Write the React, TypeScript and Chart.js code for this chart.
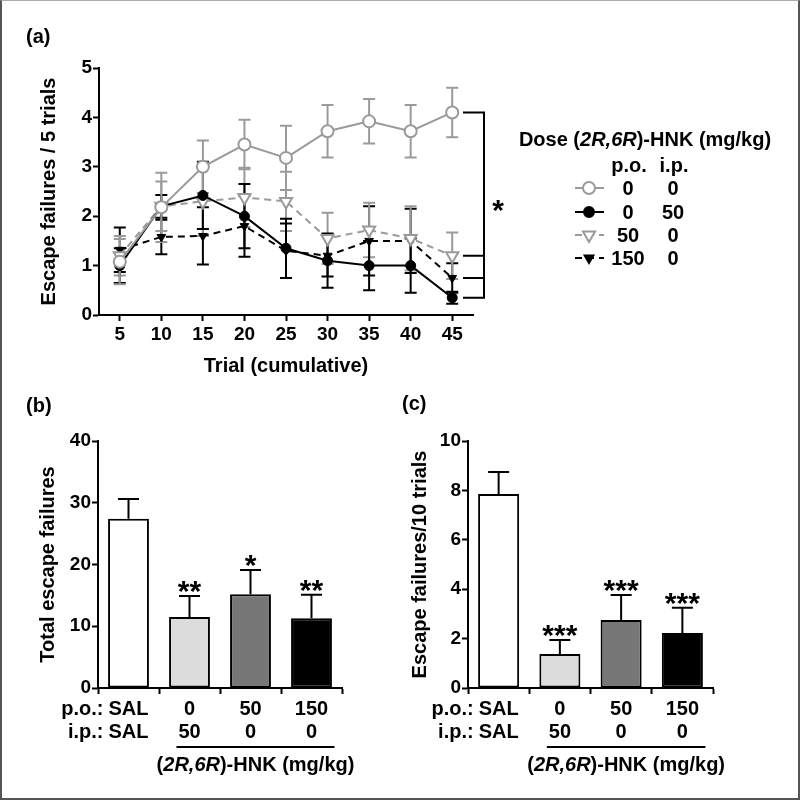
import React, { useEffect, useRef } from "react";
import { Chart, registerables } from "chart.js";

Chart.register(...registerables);

const FONT = "'Liberation Sans', Arial, Helvetica, sans-serif";
const GRAY = "#9a9a9a";

// ---------- Panel (a) data ----------
const TRIALS = ["5", "10", "15", "20", "25", "30", "35", "40", "45"];
const VEH_MEAN = [1.08, 2.18, 3.0, 3.45, 3.18, 3.72, 3.92, 3.72, 4.1];
const VEH_SEM = [0.46, 0.7, 0.53, 0.5, 0.65, 0.53, 0.45, 0.53, 0.5];
const IP50_MEAN = [1.0, 2.2, 2.42, 2.0, 1.35, 1.1, 1.0, 1.0, 0.35];
const IP50_SEM = [0.35, 0.23, 0.68, 0.65, 0.6, 0.55, 0.5, 0.55, 0.12];
const PO50_MEAN = [1.2, 2.2, 2.3, 2.38, 2.3, 1.55, 1.72, 1.55, 1.2];
const PO50_SEM = [0.4, 0.5, 0.7, 0.6, 0.6, 0.52, 0.55, 0.65, 0.47];
const PO150_MEAN = [1.32, 1.58, 1.6, 1.8, 1.3, 1.2, 1.5, 1.5, 0.75];
const PO150_SEM = [0.45, 0.35, 0.58, 0.62, 0.55, 0.42, 0.7, 0.65, 0.3];
const A_YTICKS = [0, 1, 2, 3, 4, 5];

const LEGEND_ROWS = [
  { po: "0", ip: "0" },
  { po: "0", ip: "50" },
  { po: "50", ip: "0" },
  { po: "150", ip: "0" },
];

// ---------- Panel (b) / (c) data ----------
const GROUP_PO = ["SAL", "0", "50", "150"];
const GROUP_IP = ["SAL", "50", "0", "0"];
const BAR_COLORS = ["#ffffff", "#dcdcdc", "#777777", "#000000"];
const TOTAL_MEAN = [27.4, 11.5, 15.2, 11.3];
const TOTAL_SEM = [3.2, 3.4, 3.9, 3.8];
const TOTAL_STARS = ["", "**", "*", "**"];
const TEN_MEAN = [7.85, 1.38, 2.75, 2.23];
const TEN_SEM = [0.9, 0.56, 1.02, 1.02];
const TEN_STARS = ["", "***", "***", "***"];

type Part = [string, boolean];
const HNK_PARTS: Part[] = [["(", false], ["2R,6R", true], [")-HNK (mg/kg)", false]];

function drawRich(ctx: CanvasRenderingContext2D, parts: Part[], x: number, y: number, size: number, align: "left" | "center" | "right") {
  const fonts = parts.map(([, it]) => `${it ? "italic " : ""}bold ${size}px ${FONT}`);
  const widths = parts.map(([t], i) => {
    ctx.font = fonts[i];
    return ctx.measureText(t).width;
  });
  const total = widths.reduce((a, b) => a + b, 0);
  let cx = align === "center" ? x - total / 2 : align === "right" ? x - total : x;
  ctx.textAlign = "left";
  ctx.textBaseline = "middle";
  parts.forEach(([t], i) => {
    ctx.font = fonts[i];
    ctx.fillText(t, cx, y);
    cx += widths[i];
  });
}

function text(ctx: CanvasRenderingContext2D, s: string, x: number, y: number, size: number, align: CanvasTextAlign, baseline: CanvasTextBaseline = "middle") {
  ctx.font = `bold ${size}px ${FONT}`;
  ctx.textAlign = align;
  ctx.textBaseline = baseline;
  ctx.fillStyle = "#000";
  ctx.fillText(s, x, y);
}

function drawMarker(ctx: CanvasRenderingContext2D, style: string, x: number, y: number, r: number, fill: string, stroke: string) {
  ctx.beginPath();
  if (style === "circle") {
    ctx.arc(x, y, r, 0, Math.PI * 2);
  } else {
    const s = Math.sin(Math.PI / 3) * r;
    ctx.moveTo(x, y + r);
    ctx.lineTo(x - s, y - r / 2);
    ctx.lineTo(x + s, y - r / 2);
    ctx.closePath();
  }
  ctx.fillStyle = fill;
  ctx.fill();
  ctx.lineWidth = 2;
  ctx.strokeStyle = stroke;
  ctx.setLineDash([]);
  ctx.stroke();
}

const axisCommon = (extra: any) => ({
  grid: { display: true, drawOnChartArea: false, drawTicks: true, tickLength: 6, tickWidth: 2, tickColor: "#000" },
  border: { display: true, color: "#000", width: 2 },
  ...extra,
});

// ---------- Panel A plugins ----------
const errPluginA = {
  id: "errA",
  beforeDatasetsDraw(chart: any) {
    const ctx = chart.ctx;
    const ys = chart.scales.y;
    for (let i = chart.data.datasets.length - 1; i >= 0; i--) {
      const ds = chart.data.datasets[i];
      const meta = chart.getDatasetMeta(i);
      ctx.save();
      ctx.strokeStyle = ds.borderColor;
      ctx.lineWidth = 2;
      meta.data.forEach((pt: any, j: number) => {
        const v = ds.data[j];
        const yT = ys.getPixelForValue(v + ds.sem[j]);
        const yB = ys.getPixelForValue(v - ds.sem[j]);
        ctx.beginPath();
        ctx.moveTo(pt.x, yT);
        ctx.lineTo(pt.x, yB);
        ctx.moveTo(pt.x - 6, yT);
        ctx.lineTo(pt.x + 6, yT);
        ctx.moveTo(pt.x - 6, yB);
        ctx.lineTo(pt.x + 6, yB);
        ctx.stroke();
      });
      ctx.restore();
    }
  },
};

const decorA = {
  id: "decorA",
  afterDraw(chart: any) {
    const ctx = chart.ctx;
    const ys = chart.scales.y;
    const area = chart.chartArea;
    ctx.save();
    text(ctx, "(a)", 26, 37, 20, "left");
    // significance bracket
    const last = chart.data.datasets.map((d: any) => d.data[d.data.length - 1]);
    const ysP = last.map((v: number) => ys.getPixelForValue(v));
    const x1 = area.right - 10;
    const x2 = area.right + 11;
    ctx.strokeStyle = "#000";
    ctx.lineWidth = 2;
    ctx.beginPath();
    ysP.forEach((y: number) => {
      ctx.moveTo(x1, y);
      ctx.lineTo(x2, y);
    });
    ctx.moveTo(x2, Math.min(...ysP) - 1);
    ctx.lineTo(x2, Math.max(...ysP) + 1);
    ctx.stroke();
    text(ctx, "*", x2 + 14, (ysP[0] + ysP[1]) / 2 + 15, 30, "center", "alphabetic");

    // legend
    ctx.fillStyle = "#000";
    drawRich(ctx, [["Dose (", false], ["2R,6R", true], [")-HNK (mg/kg)", false]], 645, 140, 20, "center");
    text(ctx, "p.o.", 629, 166, 20, "center");
    text(ctx, "i.p.", 674, 166, 20, "center");
    const rowsY = [188, 212, 235, 258];
    chart.data.datasets.forEach((ds: any, i: number) => {
      const y = rowsY[i];
      ctx.save();
      ctx.strokeStyle = ds.borderColor;
      ctx.lineWidth = 2;
      ctx.setLineDash(ds.borderDash || []);
      ctx.beginPath();
      ctx.moveTo(575, y);
      ctx.lineTo(604, y);
      ctx.stroke();
      ctx.restore();
      drawMarker(ctx, ds.pointStyle, 589, y, ds.pointRadius, ds.pointBackgroundColor, ds.pointBorderColor);
      text(ctx, LEGEND_ROWS[i].po, 628, y + 1, 20, "center");
      text(ctx, LEGEND_ROWS[i].ip, 673, y + 1, 20, "center");
    });
    ctx.restore();
  },
};

// ---------- Bar panel plugins ----------
function makeBarDecor(label: string, labelX: number, labelY: number, sems: number[], stars: string[]) {
  return {
    id: "decor" + label,
    afterDatasetsDraw(chart: any) {
      const ctx = chart.ctx;
      const ys = chart.scales.y;
      const ds = chart.data.datasets[0];
      const meta = chart.getDatasetMeta(0);
      ctx.save();
      ctx.strokeStyle = "#000";
      ctx.lineWidth = 2;
      meta.data.forEach((bar: any, j: number) => {
        const yTop = ys.getPixelForValue(ds.data[j]);
        const yErr = ys.getPixelForValue(ds.data[j] + sems[j]);
        ctx.beginPath();
        ctx.moveTo(bar.x, yTop);
        ctx.lineTo(bar.x, yErr);
        ctx.moveTo(bar.x - 10.5, yErr);
        ctx.lineTo(bar.x + 10.5, yErr);
        ctx.stroke();
        if (stars[j]) text(ctx, stars[j], bar.x, yErr + 5, 30, "center", "alphabetic");
      });
      ctx.restore();
    },
    afterDraw(chart: any) {
      const ctx = chart.ctx;
      const xs = chart.scales.x;
      const area = chart.chartArea;
      ctx.save();
      text(ctx, label, labelX, labelY, 20, "left");
      const x0 = xs.getPixelForValue(0);
      const row1 = area.bottom + 6 + 3.5 + 11.5;
      text(ctx, "p.o.:", x0 - 25, row1, 20, "right");
      text(ctx, "i.p.:", x0 - 25, row1 + 23, 20, "right");
      const lx1 = xs.getPixelForValue(1) - 13;
      const lx2 = xs.getPixelForValue(3) + 23;
      const ly = area.bottom + 59;
      ctx.strokeStyle = "#000";
      ctx.lineWidth = 2;
      ctx.beginPath();
      ctx.moveTo(lx1, ly);
      ctx.lineTo(lx2, ly);
      ctx.stroke();
      ctx.fillStyle = "#000";
      drawRich(ctx, HNK_PARTS, (lx1 + lx2) / 2, ly + 18, 20, "center");
      ctx.restore();
    },
  };
}

function barConfig(means: number[], max: number, step: number, title: string, yWidth: number, padding: any, plugin: any) {
  return {
    type: "bar",
    data: {
      labels: GROUP_PO.map((p, i) => [p, GROUP_IP[i]]),
      datasets: [
        {
          data: means,
          backgroundColor: BAR_COLORS,
          borderColor: "#000",
          borderWidth: 2,
          borderSkipped: false,
          barPercentage: 0.67,
          categoryPercentage: 1,
        },
      ],
    },
    options: {
      responsive: false,
      animation: false,
      devicePixelRatio: 1,
      layout: { padding },
      plugins: { legend: { display: false }, tooltip: { enabled: false } },
      scales: {
        x: axisCommon({
          type: "category",
          offset: true,
          ticks: { color: "#000", padding: 3.5, font: { family: FONT, size: 20, weight: "bold", lineHeight: 1.15 }, maxRotation: 0, autoSkip: false },
          afterFit: (s: any) => {
            s.height = 112;
          },
        }),
        y: axisCommon({
          min: 0,
          max,
          ticks: { stepSize: step, color: "#000", padding: 1, font: { family: FONT, size: 19, weight: "bold" } },
          title: { display: true, text: title, color: "#000", padding: 0, font: { family: FONT, size: 20, weight: "bold" } },
          afterFit: (s: any) => {
            s.width = yWidth;
          },
        }),
      },
    },
    plugins: [plugin],
  };
}

function useChart(ref: React.RefObject<HTMLCanvasElement>, make: () => any) {
  useEffect(() => {
    if (!ref.current) return;
    const chart = new Chart(ref.current, make());
    return () => chart.destroy();
  }, []);
}

export default function App() {
  const refA = useRef<HTMLCanvasElement>(null);
  const refB = useRef<HTMLCanvasElement>(null);
  const refC = useRef<HTMLCanvasElement>(null);

  useChart(refA, () => ({
    type: "line",
    data: {
      labels: TRIALS,
      datasets: [
        { data: VEH_MEAN, sem: VEH_SEM, borderColor: GRAY, borderWidth: 2, pointStyle: "circle", pointRadius: 6, pointBackgroundColor: "#fff", pointBorderColor: GRAY, pointBorderWidth: 2 },
        { data: IP50_MEAN, sem: IP50_SEM, borderColor: "#000", borderWidth: 2, pointStyle: "circle", pointRadius: 5, pointBackgroundColor: "#000", pointBorderColor: "#000", pointBorderWidth: 1 },
        { data: PO50_MEAN, sem: PO50_SEM, borderColor: GRAY, borderWidth: 2, borderDash: [7, 5], pointStyle: "triangle", pointRotation: 180, pointRadius: 7, pointBackgroundColor: "#fff", pointBorderColor: GRAY, pointBorderWidth: 2 },
        { data: PO150_MEAN, sem: PO150_SEM, borderColor: "#000", borderWidth: 2, borderDash: [7, 5], pointStyle: "triangle", pointRotation: 180, pointRadius: 5, pointBackgroundColor: "#000", pointBorderColor: "#000", pointBorderWidth: 1 },
      ].map((d) => ({ ...d, tension: 0, fill: false })),
    },
    options: {
      responsive: false,
      animation: false,
      devicePixelRatio: 1,
      layout: { padding: { left: 37, right: 327, top: 68, bottom: 7 } },
      plugins: { legend: { display: false }, tooltip: { enabled: false } },
      scales: {
        x: axisCommon({
          type: "category",
          offset: true,
          ticks: { color: "#000", padding: 2, font: { family: FONT, size: 19, weight: "bold" }, maxRotation: 0, autoSkip: false },
          title: { display: true, text: "Trial (cumulative)", color: "#000", padding: 0, font: { family: FONT, size: 20, weight: "bold" } },
          afterFit: (s: any) => {
            s.height = 63;
          },
        }),
        y: axisCommon({
          min: 0,
          max: 5,
          afterBuildTicks: (s: any) => {
            s.ticks = A_YTICKS.map((v) => ({ value: v }));
          },
          ticks: { color: "#000", padding: 1, font: { family: FONT, size: 19, weight: "bold" } },
          title: { display: true, text: "Escape failures / 5 trials", color: "#000", padding: 0, font: { family: FONT, size: 20, weight: "bold" } },
          afterFit: (s: any) => {
            s.width = 62;
          },
        }),
      },
    },
    plugins: [errPluginA, decorA],
  }));

  useChart(refB, () =>
    barConfig(TOTAL_MEAN, 40, 10, "Total escape failures", 62, { left: 36, right: 38, top: 56, bottom: 0 }, makeBarDecor("(b)", 26, 21, TOTAL_SEM, TOTAL_STARS))
  );
  useChart(refC, () =>
    barConfig(TEN_MEAN, 10, 2, "Escape failures/10 trials", 60, { left: 28, right: 87, top: 56, bottom: 0 }, makeBarDecor("(c)", 22, 19, TEN_SEM, TEN_STARS))
  );

  const abs = (l: number, t: number, w: number, h: number): React.CSSProperties => ({ position: "absolute", left: l, top: t, width: w, height: h });

  return (
    <div style={{ position: "absolute", left: 0, top: 0, width: 800, height: 801, background: "#fff", overflow: "hidden" }}>
      <canvas ref={refA} width={800} height={385} style={abs(0, 0, 800, 385)} />
      <canvas ref={refB} width={380} height={415} style={abs(0, 385, 380, 415)} />
      <canvas ref={refC} width={420} height={415} style={abs(380, 385, 420, 415)} />
      <div
        style={{
          ...abs(0, 0, 800, 800),
          boxSizing: "border-box",
          borderLeft: "2px solid #555",
          borderRight: "2px solid #555",
          borderBottom: "2px solid #555",
          borderTop: "1px solid #aaa",
          pointerEvents: "none",
        }}
      />
    </div>
  );
}
